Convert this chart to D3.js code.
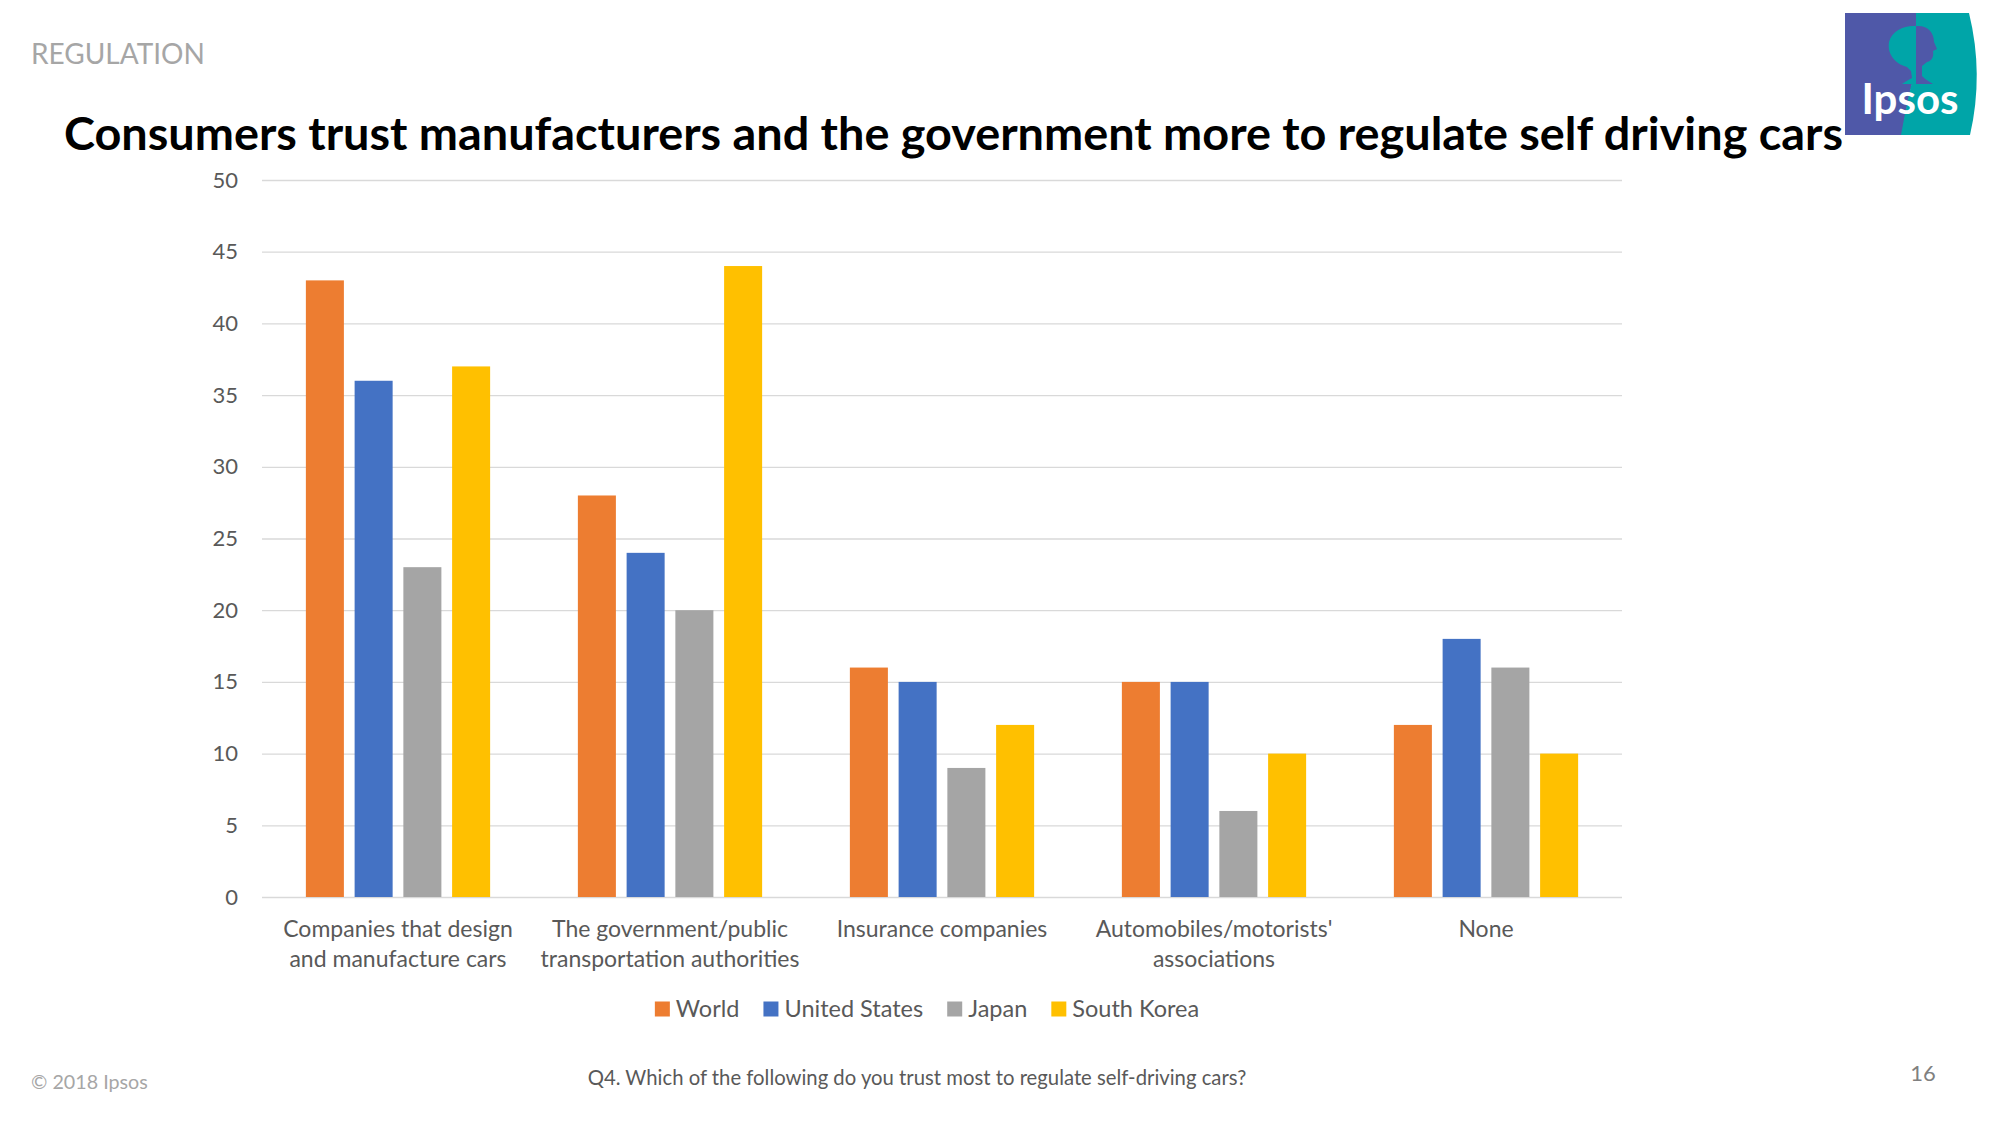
<!DOCTYPE html>
<html>
<head>
<meta charset="utf-8">
<script src="https://cdn.jsdelivr.net/npm/d3@7/dist/d3.min.js"></script>
<style>
  html, body { margin: 0; padding: 0; background: #fff; }
  svg { display: block; }
  text { font-family: Lato, "Open Sans", sans-serif; }
</style>
</head>
<body>
<svg id="chart" width="2000" height="1125"></svg>
<script>
// ---- Data ----
const categories = [
  "Companies that design and manufacture cars",
  "The government/public transportation authorities",
  "Insurance companies",
  "Automobiles/motorists' associations",
  "None"
];
const categoryLines = [
  ["Companies that design", "and manufacture cars"],
  ["The government/public", "transportation authorities"],
  ["Insurance companies"],
  ["Automobiles/motorists'", "associations"],
  ["None"]
];
const seriesNames = ["World", "United States", "Japan", "South Korea"];
const worldValues  = [43, 28, 16, 15, 12];
const usValues     = [36, 24, 15, 15, 18];
const japanValues  = [23, 20, 9, 6, 16];
const koreaValues  = [37, 44, 12, 10, 10];
const yTicks = [0, 5, 10, 15, 20, 25, 30, 35, 40, 45, 50];
const seriesColors = ["#ED7D31", "#4472C4", "#A5A5A5", "#FFC000"];

const seriesValues = [worldValues, usValues, japanValues, koreaValues];

// ---- Layout ----
const svg = d3.select("#chart");
const plot = { left: 262, right: 1622, top: 180, bottom: 897 };

const x0 = d3.scaleBand().domain(categories).range([plot.left, plot.right]).padding(0);
const x1 = d3.scaleBand().domain(seriesNames).range([0, x0.bandwidth()])
  .paddingInner(0.22).paddingOuter(0.9);
const y = d3.scaleLinear().domain([0, 50]).range([plot.bottom, plot.top]);
const color = d3.scaleOrdinal().domain(seriesNames).range(seriesColors);

// Header text
svg.append("text").attr("x", 31).attr("y", 64)
  .attr("font-size", 28).attr("fill", "#A6A6A6").text("REGULATION");

svg.append("text").attr("x", 64).attr("y", 150)
  .attr("font-size", 46).attr("font-weight", 700).attr("fill", "#000")
  .attr("textLength", 1779).attr("lengthAdjust", "spacingAndGlyphs")
  .text("Consumers trust manufacturers and the government more to regulate self driving cars");

// Y axis with gridlines
const yAxis = d3.axisLeft(y).tickValues(yTicks).tickSize(-(plot.right - plot.left)).tickPadding(24);
const gy = svg.append("g").attr("transform", `translate(${plot.left},0)`).call(yAxis);
gy.select(".domain").remove();
gy.selectAll(".tick line").attr("stroke", "#D9D9D9").attr("stroke-width", 1.3);
gy.selectAll(".tick text").attr("font-size", 22).attr("fill", "#595959")
  .style("font-family", "Lato, 'Open Sans', sans-serif");

// Bars
const rows = categories.map((c, i) => ({ cat: c, vals: seriesNames.map((s, j) => ({ s, v: seriesValues[j][i] })) }));
const groups = svg.append("g").selectAll("g").data(rows).join("g")
  .attr("transform", d => `translate(${x0(d.cat)},0)`);
groups.selectAll("rect").data(d => d.vals).join("rect")
  .attr("x", d => x1(d.s))
  .attr("width", x1.bandwidth())
  .attr("y", d => y(d.v))
  .attr("height", d => y(0) - y(d.v))
  .attr("fill", d => color(d.s));

// X axis labels
const xAxis = d3.axisBottom(x0).tickSize(0).tickPadding(0).tickFormat(() => "");
const gx = svg.append("g").attr("transform", `translate(0,${plot.bottom})`).call(xAxis);
gx.select(".domain").remove();
gx.selectAll(".tick").each(function(d, i) {
  const t = d3.select(this).select("text")
    .attr("font-size", 23).attr("fill", "#595959").attr("y", 0).attr("dy", null)
    .style("font-family", "Lato, 'Open Sans', sans-serif");
  categoryLines[i].forEach((line, k) => {
    t.append("tspan").attr("x", 0).attr("y", 40 + k * 30).text(line);
  });
});

// Legend
const legend = svg.append("g");
const legendItems = legend.selectAll("g").data(seriesNames).join("g");
legendItems.append("rect").attr("width", 15).attr("height", 15).attr("y", -7.5)
  .attr("fill", d => color(d));
legendItems.append("text").attr("x", 21).attr("y", 0).attr("dy", "0.35em")
  .attr("font-size", 23.5).attr("fill", "#595959").text(d => d);
let lx = 0;
const gap = 24;
legendItems.each(function() {
  const g = d3.select(this);
  g.attr("transform", `translate(${lx},0)`);
  lx += 21 + g.select("text").node().getComputedTextLength() + gap;
});
const legendWidth = lx - gap;
legend.attr("transform", `translate(${927 - legendWidth / 2},1009)`);

// Footer
svg.append("text").attr("x", 31).attr("y", 1089)
  .attr("font-size", 19.7).attr("fill", "#A6A6A6").text("© 2018 Ipsos");
svg.append("text").attr("x", 917).attr("y", 1085).attr("text-anchor", "middle")
  .attr("font-size", 20.3).attr("fill", "#595959")
  .text("Q4. Which of the following do you trust most to regulate self-driving cars?");
svg.append("text").attr("x", 1923).attr("y", 1081).attr("text-anchor", "middle")
  .attr("font-size", 22).attr("fill", "#808080").text("16");

// Logo
const logo = svg.append("g");
logo.append("path").attr("fill", "#4F58A8")
  .attr("d", "M1845,13 L1917,13 L1917,66 Q1908,96 1902,135 L1845,135 Z");
logo.append("path").attr("fill", "#00A5A8")
  .attr("d", "M1916,13 L1969,13 Q1984,74 1970,135 L1901,135 Q1908,96 1916,66 Z");
// tree canopy (teal on purple)
logo.append("path").attr("fill", "#00A5A8")
  .attr("d", "M1916,26 C1905,25 1892,30 1889,42 C1887,55 1896,64 1907,67 L1911,71 L1912,78 C1908,80 1905,82 1902,84 L1916,84 Z");
// head profile (purple on teal)
logo.append("path").attr("fill", "#4F58A8")
  .attr("d", "M1916,26 C1928,25 1934,33 1934,42 L1937,49 L1933,51 C1934,56 1932,61 1927,62 L1922,66 L1922,76 C1926,80 1930,82 1933,84 L1916,84 Z");
logo.append("text").attr("x", 1910).attr("y", 114).attr("text-anchor", "middle")
  .attr("font-size", 42).attr("font-weight", 700).attr("fill", "#fff").text("Ipsos");
</script>
</body>
</html>
